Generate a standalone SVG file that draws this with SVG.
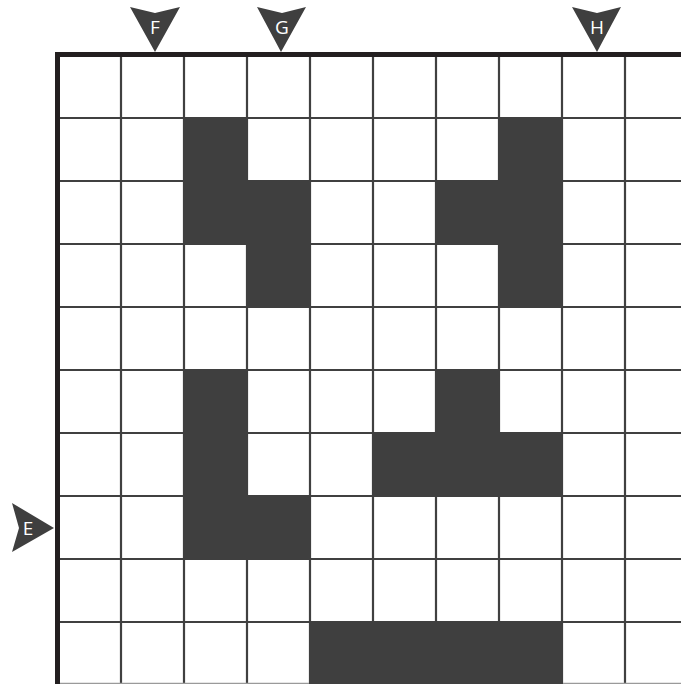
<svg xmlns="http://www.w3.org/2000/svg" width="681" height="684" viewBox="0 0 681 684">
<style>
.grid line{stroke:#404040;stroke-width:2.2}
.dark{fill:#3f3f3f}
.mk{fill:#3f3f3f}
.lbl{fill:#ffffff;font-family:"Open Sans","DejaVu Sans",sans-serif;font-size:19px;text-anchor:middle;dominant-baseline:central}
</style>
<rect width="681" height="684" fill="#ffffff"/>
<g id="grid" class="grid">
<line x1="121" y1="55" x2="121" y2="684"/>
<line x1="184" y1="55" x2="184" y2="684"/>
<line x1="247" y1="55" x2="247" y2="684"/>
<line x1="310" y1="55" x2="310" y2="684"/>
<line x1="373" y1="55" x2="373" y2="684"/>
<line x1="436" y1="55" x2="436" y2="684"/>
<line x1="499" y1="55" x2="499" y2="684"/>
<line x1="562" y1="55" x2="562" y2="684"/>
<line x1="625" y1="55" x2="625" y2="684"/>
<line x1="57" y1="118" x2="681" y2="118"/>
<line x1="57" y1="181" x2="681" y2="181"/>
<line x1="57" y1="244" x2="681" y2="244"/>
<line x1="57" y1="307" x2="681" y2="307"/>
<line x1="57" y1="370" x2="681" y2="370"/>
<line x1="57" y1="433" x2="681" y2="433"/>
<line x1="57" y1="496" x2="681" y2="496"/>
<line x1="57" y1="559" x2="681" y2="559"/>
<line x1="57" y1="622" x2="681" y2="622"/>
<line x1="57" y1="683.5" x2="681" y2="683.5" style="stroke:#9a9a9a;stroke-width:1.5"/>
</g>
<g id="cells">
<rect class="dark" x="183" y="117" width="65" height="65"/>
<rect class="dark" x="498" y="117" width="65" height="65"/>
<rect class="dark" x="183" y="180" width="128" height="65"/>
<rect class="dark" x="435" y="180" width="128" height="65"/>
<rect class="dark" x="246" y="243" width="65" height="65"/>
<rect class="dark" x="498" y="243" width="65" height="65"/>
<rect class="dark" x="183" y="369" width="65" height="65"/>
<rect class="dark" x="435" y="369" width="65" height="65"/>
<rect class="dark" x="183" y="432" width="65" height="65"/>
<rect class="dark" x="372" y="432" width="191" height="65"/>
<rect class="dark" x="183" y="495" width="128" height="65"/>
<rect class="dark" x="309" y="621" width="254" height="63"/>
</g>
<g id="border">
<rect x="55" y="52" width="626" height="5" fill="#231f20"/>
<rect x="55" y="52" width="5" height="632" fill="#231f20"/>
</g>
<g id="marker-F">
<polygon class="mk" points="130,7 155,13 180,7 155,52"/>
<text class="lbl" x="155" y="27">F</text>
</g>
<g id="marker-G">
<polygon class="mk" points="257,7 282,13 306,7 281,52"/>
<text class="lbl" x="282" y="27">G</text>
</g>
<g id="marker-H">
<polygon class="mk" points="572,7 597,13 621,7 597,52"/>
<text class="lbl" x="597" y="27">H</text>
</g>
<g id="marker-E">
<polygon class="mk" points="12,503 54,528 12,552 19,528"/>
<text class="lbl" x="28" y="528">E</text>
</g>
</svg>
